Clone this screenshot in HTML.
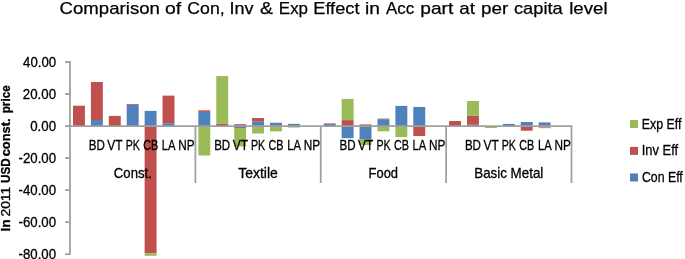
<!DOCTYPE html>
<html><head><meta charset="utf-8"><style>
html,body{margin:0;padding:0;background:#fff;}
body{width:685px;height:259px;overflow:hidden;position:relative;}
svg{position:absolute;left:0;top:0;}
text{font-family:"Liberation Sans",sans-serif;fill:#000;stroke:#000;stroke-width:0.3px;}
svg{will-change:transform;}
.t{stroke-width:0.25px;}
</style></head><body>
<svg width="685" height="259" viewBox="0 0 685 259">
<rect x="72.99" y="105.70" width="11.94" height="20.45" fill="#C0504D"/>
<rect x="90.90" y="120.00" width="11.94" height="6.15" fill="#4F81BD"/>
<rect x="90.90" y="82.00" width="11.94" height="38.00" fill="#C0504D"/>
<rect x="108.81" y="115.90" width="11.94" height="10.25" fill="#C0504D"/>
<rect x="126.72" y="104.90" width="11.94" height="21.25" fill="#4F81BD"/>
<rect x="126.72" y="104.10" width="11.94" height="0.80" fill="#C0504D"/>
<rect x="144.63" y="110.90" width="11.94" height="15.25" fill="#4F81BD"/>
<rect x="144.63" y="126.15" width="11.94" height="127.05" fill="#C0504D"/>
<rect x="144.63" y="253.20" width="11.94" height="2.60" fill="#9BBB59"/>
<rect x="162.54" y="123.20" width="11.94" height="2.95" fill="#4F81BD"/>
<rect x="162.54" y="95.60" width="11.94" height="27.60" fill="#C0504D"/>
<rect x="198.36" y="111.90" width="11.94" height="14.25" fill="#4F81BD"/>
<rect x="198.36" y="110.30" width="11.94" height="1.60" fill="#C0504D"/>
<rect x="198.36" y="126.15" width="11.94" height="29.35" fill="#9BBB59"/>
<rect x="216.27" y="123.90" width="11.94" height="2.25" fill="#C0504D"/>
<rect x="216.27" y="76.10" width="11.94" height="47.80" fill="#9BBB59"/>
<rect x="234.18" y="124.20" width="11.94" height="1.95" fill="#C0504D"/>
<rect x="234.18" y="126.15" width="11.94" height="1.85" fill="#4F81BD"/>
<rect x="234.18" y="128.00" width="11.94" height="18.40" fill="#9BBB59"/>
<rect x="252.09" y="121.30" width="11.94" height="4.85" fill="#4F81BD"/>
<rect x="252.09" y="118.00" width="11.94" height="3.30" fill="#C0504D"/>
<rect x="252.09" y="126.15" width="11.94" height="7.35" fill="#9BBB59"/>
<rect x="270.00" y="122.70" width="11.94" height="3.45" fill="#4F81BD"/>
<rect x="270.00" y="126.15" width="11.94" height="5.25" fill="#9BBB59"/>
<rect x="287.91" y="123.90" width="11.94" height="2.25" fill="#4F81BD"/>
<rect x="287.91" y="126.15" width="11.94" height="1.45" fill="#9BBB59"/>
<rect x="323.74" y="123.90" width="11.94" height="2.25" fill="#4F81BD"/>
<rect x="323.74" y="123.40" width="11.94" height="0.50" fill="#C0504D"/>
<rect x="341.65" y="120.10" width="11.94" height="6.05" fill="#C0504D"/>
<rect x="341.65" y="98.90" width="11.94" height="21.20" fill="#9BBB59"/>
<rect x="341.65" y="126.15" width="11.94" height="12.05" fill="#4F81BD"/>
<rect x="359.56" y="124.40" width="11.94" height="1.75" fill="#C0504D"/>
<rect x="359.56" y="126.15" width="11.94" height="13.45" fill="#4F81BD"/>
<rect x="359.56" y="139.60" width="11.94" height="5.40" fill="#9BBB59"/>
<rect x="377.47" y="119.20" width="11.94" height="6.95" fill="#4F81BD"/>
<rect x="377.47" y="118.60" width="11.94" height="0.60" fill="#C0504D"/>
<rect x="377.47" y="126.15" width="11.94" height="5.15" fill="#9BBB59"/>
<rect x="395.38" y="105.90" width="11.94" height="20.25" fill="#4F81BD"/>
<rect x="395.38" y="126.15" width="11.94" height="10.95" fill="#9BBB59"/>
<rect x="413.29" y="107.00" width="11.94" height="19.15" fill="#4F81BD"/>
<rect x="413.29" y="126.15" width="11.94" height="9.85" fill="#C0504D"/>
<rect x="449.11" y="121.00" width="11.94" height="5.15" fill="#C0504D"/>
<rect x="467.02" y="124.80" width="11.94" height="1.35" fill="#4F81BD"/>
<rect x="467.02" y="115.90" width="11.94" height="8.90" fill="#C0504D"/>
<rect x="467.02" y="101.00" width="11.94" height="14.90" fill="#9BBB59"/>
<rect x="484.93" y="126.15" width="11.94" height="1.85" fill="#9BBB59"/>
<rect x="502.84" y="123.90" width="11.94" height="2.25" fill="#4F81BD"/>
<rect x="520.75" y="122.00" width="11.94" height="4.15" fill="#4F81BD"/>
<rect x="520.75" y="126.15" width="11.94" height="4.55" fill="#C0504D"/>
<rect x="538.66" y="122.40" width="11.94" height="3.75" fill="#4F81BD"/>
<rect x="538.66" y="126.15" width="11.94" height="1.55" fill="#C0504D"/>
<rect x="538.66" y="127.70" width="11.94" height="0.50" fill="#9BBB59"/>
<rect x="630" y="120" width="8" height="8" fill="#9BBB59"/>
<rect x="630" y="146.9" width="8" height="8" fill="#C0504D"/>
<rect x="630" y="173.5" width="8" height="8" fill="#4F81BD"/>
<line x1="70.0" y1="61.10" x2="70.0" y2="255.10" stroke="#a0a0a0" stroke-width="1.8"/>
<line x1="65" y1="62.00" x2="70.0" y2="62.00" stroke="#a0a0a0" stroke-width="1.8"/>
<line x1="65" y1="94.03" x2="70.0" y2="94.03" stroke="#a0a0a0" stroke-width="1.8"/>
<line x1="65" y1="126.07" x2="70.0" y2="126.07" stroke="#a0a0a0" stroke-width="1.8"/>
<line x1="65" y1="158.10" x2="70.0" y2="158.10" stroke="#a0a0a0" stroke-width="1.8"/>
<line x1="65" y1="190.13" x2="70.0" y2="190.13" stroke="#a0a0a0" stroke-width="1.8"/>
<line x1="65" y1="222.17" x2="70.0" y2="222.17" stroke="#a0a0a0" stroke-width="1.8"/>
<line x1="65" y1="254.20" x2="70.0" y2="254.20" stroke="#a0a0a0" stroke-width="1.8"/>
<line x1="70.0" y1="126.15" x2="572.4" y2="126.15" stroke="#a0a0a0" stroke-width="1.8"/>
<line x1="195.38" y1="126.15" x2="195.38" y2="183" stroke="#a0a0a0" stroke-width="1.8"/>
<line x1="320.75" y1="126.15" x2="320.75" y2="183" stroke="#a0a0a0" stroke-width="1.8"/>
<line x1="446.12" y1="126.15" x2="446.12" y2="183" stroke="#a0a0a0" stroke-width="1.8"/>
<line x1="571.50" y1="126.15" x2="571.50" y2="183" stroke="#a0a0a0" stroke-width="1.8"/>
<text x="23.07" y="66.55" font-size="13.9" textLength="32.99" lengthAdjust="spacingAndGlyphs">40.00</text>
<text x="22.84" y="98.58" font-size="13.9" textLength="33.23" lengthAdjust="spacingAndGlyphs">20.00</text>
<text x="30.17" y="130.62" font-size="13.9" textLength="25.88" lengthAdjust="spacingAndGlyphs">0.00</text>
<text x="18.50" y="162.65" font-size="13.9" textLength="37.53" lengthAdjust="spacingAndGlyphs">-20.00</text>
<text x="18.50" y="194.68" font-size="13.9" textLength="37.53" lengthAdjust="spacingAndGlyphs">-40.00</text>
<text x="18.50" y="226.72" font-size="13.9" textLength="37.53" lengthAdjust="spacingAndGlyphs">-60.00</text>
<text x="18.50" y="258.75" font-size="13.9" textLength="37.53" lengthAdjust="spacingAndGlyphs">-80.00</text>
<text x="88.77" y="149.60" font-size="14.2" textLength="16.10" lengthAdjust="spacingAndGlyphs">BD</text>
<text x="107.34" y="149.60" font-size="14.2" textLength="15.33" lengthAdjust="spacingAndGlyphs">VT</text>
<text x="125.65" y="149.60" font-size="14.2" textLength="14.20" lengthAdjust="spacingAndGlyphs">PK</text>
<text x="143.16" y="149.60" font-size="14.2" textLength="15.03" lengthAdjust="spacingAndGlyphs">CB</text>
<text x="161.80" y="149.60" font-size="14.2" textLength="13.73" lengthAdjust="spacingAndGlyphs">LA</text>
<text x="178.36" y="149.60" font-size="14.2" textLength="16.38" lengthAdjust="spacingAndGlyphs">NP</text>
<text x="214.15" y="149.60" font-size="14.2" textLength="16.10" lengthAdjust="spacingAndGlyphs">BD</text>
<text x="232.72" y="149.60" font-size="14.2" textLength="15.33" lengthAdjust="spacingAndGlyphs">VT</text>
<text x="251.02" y="149.60" font-size="14.2" textLength="14.20" lengthAdjust="spacingAndGlyphs">PK</text>
<text x="268.53" y="149.60" font-size="14.2" textLength="15.03" lengthAdjust="spacingAndGlyphs">CB</text>
<text x="287.18" y="149.60" font-size="14.2" textLength="13.73" lengthAdjust="spacingAndGlyphs">LA</text>
<text x="303.73" y="149.60" font-size="14.2" textLength="16.38" lengthAdjust="spacingAndGlyphs">NP</text>
<text x="339.52" y="149.60" font-size="14.2" textLength="16.10" lengthAdjust="spacingAndGlyphs">BD</text>
<text x="358.09" y="149.60" font-size="14.2" textLength="15.33" lengthAdjust="spacingAndGlyphs">VT</text>
<text x="376.40" y="149.60" font-size="14.2" textLength="14.20" lengthAdjust="spacingAndGlyphs">PK</text>
<text x="393.91" y="149.60" font-size="14.2" textLength="15.03" lengthAdjust="spacingAndGlyphs">CB</text>
<text x="412.55" y="149.60" font-size="14.2" textLength="13.73" lengthAdjust="spacingAndGlyphs">LA</text>
<text x="429.11" y="149.60" font-size="14.2" textLength="16.38" lengthAdjust="spacingAndGlyphs">NP</text>
<text x="464.90" y="149.60" font-size="14.2" textLength="16.10" lengthAdjust="spacingAndGlyphs">BD</text>
<text x="483.46" y="149.60" font-size="14.2" textLength="15.33" lengthAdjust="spacingAndGlyphs">VT</text>
<text x="501.77" y="149.60" font-size="14.2" textLength="14.20" lengthAdjust="spacingAndGlyphs">PK</text>
<text x="519.28" y="149.60" font-size="14.2" textLength="15.03" lengthAdjust="spacingAndGlyphs">CB</text>
<text x="537.93" y="149.60" font-size="14.2" textLength="13.73" lengthAdjust="spacingAndGlyphs">LA</text>
<text x="554.48" y="149.60" font-size="14.2" textLength="16.38" lengthAdjust="spacingAndGlyphs">NP</text>
<text x="113.84" y="178.10" font-size="14.2" textLength="38.01" lengthAdjust="spacingAndGlyphs">Const.</text>
<text x="238.25" y="178.10" font-size="14.2" textLength="39.57" lengthAdjust="spacingAndGlyphs">Textile</text>
<text x="368.57" y="178.10" font-size="14.2" textLength="29.47" lengthAdjust="spacingAndGlyphs">Food</text>
<text x="474.23" y="178.10" font-size="14.2" textLength="69.09" lengthAdjust="spacingAndGlyphs">Basic Metal</text>
<text x="641.71" y="128.70" font-size="14.2" textLength="39.64" lengthAdjust="spacingAndGlyphs">Exp Eff</text>
<text x="641.74" y="155.20" font-size="14.2" textLength="36.42" lengthAdjust="spacingAndGlyphs">Inv Eff</text>
<text x="641.88" y="181.90" font-size="14.2" textLength="40.88" lengthAdjust="spacingAndGlyphs">Con Eff</text>
<text class="t" x="59.57" y="14.20" font-size="17.0" textLength="100.37" lengthAdjust="spacingAndGlyphs">Comparison</text>
<text class="t" x="165.03" y="14.20" font-size="17.0" textLength="16.16" lengthAdjust="spacingAndGlyphs">of</text>
<text class="t" x="187.32" y="14.20" font-size="17.0" textLength="37.33" lengthAdjust="spacingAndGlyphs">Con,</text>
<text class="t" x="229.57" y="14.20" font-size="17.0" textLength="24.10" lengthAdjust="spacingAndGlyphs">Inv</text>
<text class="t" x="259.92" y="14.20" font-size="17.0" textLength="12.91" lengthAdjust="spacingAndGlyphs">&amp;</text>
<text class="t" x="278.84" y="14.20" font-size="17.0" textLength="29.19" lengthAdjust="spacingAndGlyphs">Exp</text>
<text class="t" x="313.24" y="14.20" font-size="17.0" textLength="46.21" lengthAdjust="spacingAndGlyphs">Effect</text>
<text class="t" x="364.95" y="14.20" font-size="17.0" textLength="14.96" lengthAdjust="spacingAndGlyphs">in</text>
<text class="t" x="386.12" y="14.20" font-size="17.0" textLength="28.14" lengthAdjust="spacingAndGlyphs">Acc</text>
<text class="t" x="420.26" y="14.20" font-size="17.0" textLength="33.00" lengthAdjust="spacingAndGlyphs">part</text>
<text class="t" x="459.26" y="14.20" font-size="17.0" textLength="15.61" lengthAdjust="spacingAndGlyphs">at</text>
<text class="t" x="480.98" y="14.20" font-size="17.0" textLength="27.21" lengthAdjust="spacingAndGlyphs">per</text>
<text class="t" x="513.98" y="14.20" font-size="17.0" textLength="48.69" lengthAdjust="spacingAndGlyphs">capita</text>
<text class="t" x="569.19" y="14.20" font-size="17.0" textLength="38.36" lengthAdjust="spacingAndGlyphs">level</text>
<text transform="translate(10.2,0) rotate(-90)" x="-231.49" y="0" font-size="12.6" font-weight="bold" textLength="12.20" lengthAdjust="spacingAndGlyphs">In</text>
<text transform="translate(10.2,0) rotate(-90)" x="-216.60" y="0" font-size="12.6" textLength="29.90" lengthAdjust="spacingAndGlyphs">2011</text>
<text transform="translate(10.2,0) rotate(-90)" x="-183.00" y="0" font-size="12.6" font-weight="bold" textLength="24.58" lengthAdjust="spacingAndGlyphs">USD</text>
<text transform="translate(10.2,0) rotate(-90)" x="-156.31" y="0" font-size="12.6" font-weight="bold" textLength="37.81" lengthAdjust="spacingAndGlyphs">const.</text>
<text transform="translate(10.2,0) rotate(-90)" x="-113.26" y="0" font-size="12.6" font-weight="bold" textLength="27.87" lengthAdjust="spacingAndGlyphs">price</text>
</svg>
</body></html>
